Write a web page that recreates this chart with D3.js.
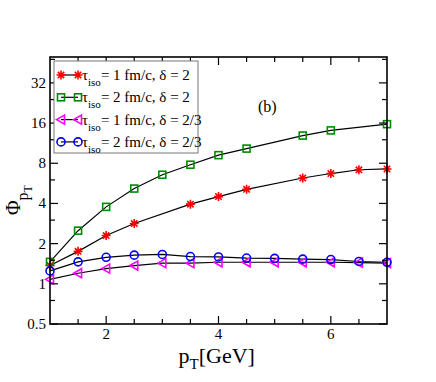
<!DOCTYPE html>
<html>
<head>
<meta charset="utf-8">
<script src="https://cdn.jsdelivr.net/npm/d3@7"></script>
<style>
  body { margin: 0; background: #fff; }
  text { font-family: "Liberation Serif", "Times New Roman", serif; }
</style>
</head>
<body>
<div id="chart"></div>
<script>
// data (pT in GeV, Phi)
let pt_red = [1, 1.5, 2, 2.5, 3.5, 4, 4.5, 5.5, 6, 6.5, 7];
let phi_red = [1.37, 1.75, 2.3, 2.83, 3.95, 4.5, 5.1, 6.2, 6.7, 7.15, 7.25];
let pt_green = [1, 1.5, 2, 2.5, 3, 3.5, 4, 4.5, 5.5, 6, 7];
let phi_green = [1.46, 2.5, 3.77, 5.17, 6.56, 7.8, 9.2, 10.3, 12.9, 14.1, 15.7];
let pt_mag = [1, 1.5, 2, 2.5, 3, 3.5, 4, 4.5, 5, 5.5, 6, 6.5, 7];
let phi_mag = [1.08, 1.2, 1.3, 1.37, 1.43, 1.43, 1.45, 1.45, 1.45, 1.45, 1.45, 1.44, 1.43];
let pt_blue = [1, 1.5, 2, 2.5, 3, 3.5, 4, 4.5, 5, 5.5, 6, 6.5, 7];
let phi_blue = [1.25, 1.46, 1.58, 1.64, 1.66, 1.6, 1.59, 1.56, 1.55, 1.53, 1.52, 1.47, 1.45];

let legendLabels = ["1 fm/c, δ = 2", "2 fm/c, δ = 2", "1 fm/c, δ = 2/3", "2 fm/c, δ = 2/3"];
let xMajor = [2, 4, 6];
let xMinor = [1.5, 2.5, 3, 3.5, 4.5, 5, 5.5, 6.5];
let yMajor = [0.5, 1, 2, 4, 8, 16, 32];
let yMinor = [0.75, 1.5, 3, 6, 12, 24, 48];

let width = 436, height = 382;
let margin = {left: 50, top: 57, right: 49, bottom: 58};
let w = width - margin.left - margin.right, h = height - margin.top - margin.bottom;

let svg = d3.select("#chart").append("svg")
    .attr("width", width)
    .attr("height", height)
    .append("g")
    .attr("transform", `translate(${margin.left},${margin.top})`);

let x = d3.scaleLinear().domain([1, 7]).range([0, w]);
let y = d3.scaleLog().domain([0.5, 50]).range([h, 0]);

// markers
function star(g, col) {
    let r = 4.5;
    let p = d3.path();
    for (let a = 0; a < 4; a++) {
        let t = a * Math.PI / 4;
        p.moveTo(-r * Math.cos(t), -r * Math.sin(t));
        p.lineTo(r * Math.cos(t), r * Math.sin(t));
    }
    g.append("path").attr("d", p.toString()).attr("stroke", col).attr("stroke-width", 1.6).attr("fill", "none");
}
function square(g, col) {
    g.append("rect").attr("x", -3.5).attr("y", -3.5).attr("width", 7).attr("height", 7)
        .attr("fill", "none").attr("stroke", col).attr("stroke-width", 1.6);
}
function triangle(g, col) {
    g.append("path").attr("d", "M-4.5,0L3.5,-4.5L3.5,4.5Z")
        .attr("fill", "none").attr("stroke", col).attr("stroke-width", 1.6);
}
function circle(g, col) {
    g.append("circle").attr("r", 4).attr("fill", "none").attr("stroke", col).attr("stroke-width", 1.6);
}

let series = [
    {pt: pt_red, phi: phi_red, col: "#ff0000", mark: star},
    {pt: pt_green, phi: phi_green, col: "#008b00", mark: square},
    {pt: pt_mag, phi: phi_mag, col: "#ff00ff", mark: triangle},
    {pt: pt_blue, phi: phi_blue, col: "#0000ff", mark: circle}
];

let line = d3.line().x(function(d) { return x(d[0]); }).y(function(d) { return y(d[1]); });

series.forEach(function(s) {
    let pts = s.pt.map(function(p, i) { return [p, s.phi[i]]; });
    svg.append("path").datum(pts).attr("d", line)
        .attr("fill", "none").attr("stroke", "#000").attr("stroke-width", 1.2);
});
series.forEach(function(s) {
    s.pt.forEach(function(p, i) {
        let g = svg.append("g").attr("transform", `translate(${x(p)},${y(s.phi[i])})`);
        s.mark(g, s.col);
    });
});

// frame
svg.append("rect").attr("width", w).attr("height", h)
    .attr("fill", "none").attr("stroke", "#000").attr("stroke-width", 1.6);

// ticks
let tk = svg.append("g").attr("stroke", "#000").attr("stroke-width", 1.2);
xMajor.concat(xMinor).forEach(function(v) {
    let len = xMajor.includes(v) ? 8 : 5;
    tk.append("line").attr("x1", x(v)).attr("x2", x(v)).attr("y1", h).attr("y2", h - len);
    tk.append("line").attr("x1", x(v)).attr("x2", x(v)).attr("y1", 0).attr("y2", len);
});
yMajor.concat(yMinor).forEach(function(v) {
    if (v > 50) return;
    let len = yMajor.includes(v) ? 8 : 5;
    tk.append("line").attr("x1", 0).attr("x2", len).attr("y1", y(v)).attr("y2", y(v));
    tk.append("line").attr("x1", w).attr("x2", w - len).attr("y1", y(v)).attr("y2", y(v));
});

// tick labels
xMajor.forEach(function(v) {
    svg.append("text").attr("x", x(v)).attr("y", h + 15)
        .attr("text-anchor", "middle").style("font-size", "15px").text(v);
});
yMajor.forEach(function(v) {
    svg.append("text").attr("x", -4).attr("y", y(v) + 5)
        .attr("text-anchor", "end").style("font-size", "15px").text(v);
});

// axis labels
let xl = svg.append("text").attr("x", w / 2 - 40).attr("y", h + 39)
    .style("font-size", "22px");
xl.append("tspan").text("p");
xl.append("tspan").attr("dy", 6).style("font-size", "15px").text("T");
xl.append("tspan").attr("dy", -6).text("[GeV]");

let yl = svg.append("text")
    .attr("transform", `translate(${-30},${158}) rotate(-90)`)
    .style("font-size", "20px");
yl.append("tspan").text("Φ");
yl.append("tspan").attr("dy", 8).style("font-size", "16px").text("p");
yl.append("tspan").attr("dy", 4).style("font-size", "12px").text("T");

// panel tag
svg.append("text").attr("x", 208).attr("y", 55).style("font-size", "16px").text("(b)");

// legend
let lg = svg.append("g").attr("transform", "translate(4,4)");
lg.append("rect").attr("width", 144).attr("height", 92)
    .attr("fill", "#fff").attr("stroke", "#777").attr("stroke-width", 1);
series.forEach(function(s, i) {
    let ly = 14 + i * 22.3;
    lg.append("line").attr("x1", 7).attr("x2", 24).attr("y1", ly).attr("y2", ly)
        .attr("stroke", "#000").attr("stroke-width", 1.2);
    [7, 24].forEach(function(px) {
        let g = lg.append("g").attr("transform", `translate(${px},${ly})`);
        s.mark(g, s.col);
    });
    let t = lg.append("text").attr("x", 28).attr("y", ly + 5).style("font-size", "15px");
    t.append("tspan").text("τ");
    t.append("tspan").attr("dy", 6).style("font-size", "11px").text("iso");
    t.append("tspan").attr("dy", -6).text("= " + legendLabels[i]);
});
</script>
</body>
</html>
